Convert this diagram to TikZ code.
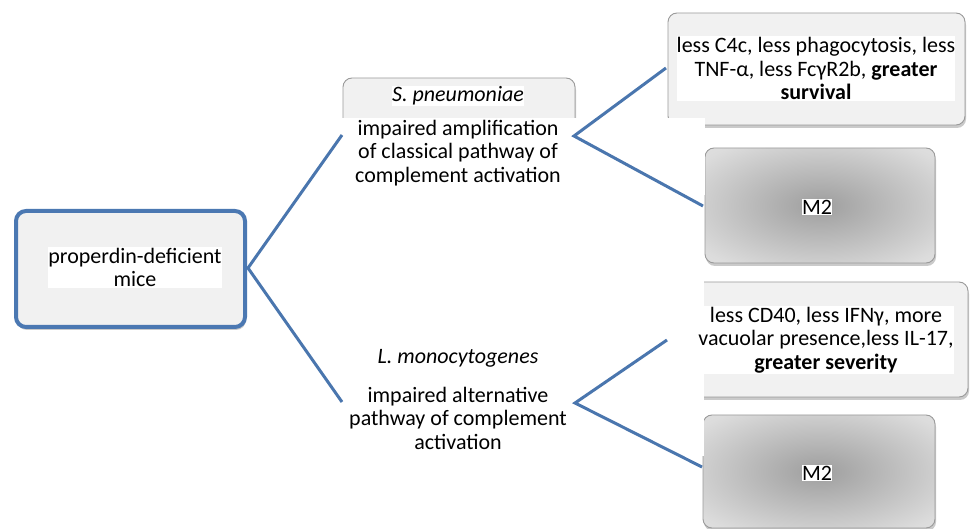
\documentclass[tikz,border=0pt]{standalone}
\usepackage{fontspec}
\setmainfont{Carlito}
\usetikzlibrary{shadows}
\definecolor{linkblue}{HTML}{4A76AE}
\definecolor{lboxblue}{HTML}{4B78B2}
\definecolor{boxfill}{HTML}{F1F1F1}
\definecolor{boxedge}{HTML}{9A9A9A}
\definecolor{mtwoin}{HTML}{9E9E9E}
\definecolor{mtwomid}{HTML}{BBBBBB}
\definecolor{mtwoout}{HTML}{DCDCDC}
\definecolor{mtwofar}{HTML}{EBEBEB}
\pgfdeclareradialshading{mtwoshade}{\pgfpoint{0bp}{0bp}}{color(0bp)=(mtwoin); color(15bp)=(mtwomid); color(32bp)=(mtwoout); color(50bp)=(mtwofar)}
\tikzset{
  every node/.style={font=\fontsize{22}{23.5}\selectfont},
  softshadow/.style={drop shadow={shadow xshift=1pt, shadow yshift=-3pt, opacity=0.35, fill=black!60}},
  graybox/.style={draw=boxedge, fill=boxfill, rounded corners=9pt, line width=0.9pt, inner sep=0pt, softshadow},
  mtwobox/.style={draw=boxedge, rounded corners=9pt, line width=0.9pt, inner sep=0pt, shading=mtwoshade, softshadow},
  bluebox/.style={draw=lboxblue, fill=boxfill, rounded corners=10pt, line width=4pt, inner sep=0pt, softshadow},
  txt/.style={fill=white, inner xsep=0pt, inner ysep=1pt, align=center},
  plain/.style={inner sep=0pt, align=center},
  link/.style={draw=linkblue, line width=3pt},
}
\begin{document}
\begin{tikzpicture}[x=1pt,y=-1pt]
\useasboundingbox (0,0) rectangle (970,529);
% left box
\node[bluebox, minimum width=229pt, minimum height=116pt] (lbox) at (130.5,269) {};
\node[txt] (ltext) at (135,267.5) {properdin-deficient\\mice};
% top middle box
\node[graybox, minimum width=232pt, minimum height=72pt] (sbox) at (459,114) {};
\node[txt, font=\fontsize{22}{23.5}\selectfont\itshape] (stitle) at (458,96) {S. pneumoniae};
% right top box
\node[graybox, minimum width=297pt, minimum height=112pt] (trbox) at (816.5,69) {};
% M2 top
\node[mtwobox, minimum width=230pt, minimum height=115pt] (mtwoa) at (820,205.5) {};
% right bottom box
\node[graybox, minimum width=300pt, minimum height=115pt] (brbox) at (818,339.5) {};
% M2 bottom
\node[mtwobox, minimum width=232pt, minimum height=113pt] (mtwob) at (819,471.5) {};
% white covers
\node[fill=white, inner sep=0pt, minimum width=365pt, minimum height=77pt] (scover) at (522.5,156.5) {};
\node[fill=white, inner sep=0pt, minimum width=364pt, minimum height=180pt] (lcover) at (522,366) {};
% texts
\node[plain] (stext) at (458,153) {impaired amplification\\of classical pathway of\\complement activation};
\node[plain, font=\fontsize{22}{23.5}\selectfont\itshape] (ltitle) at (458,358) {L. monocytogenes};
\node[plain] (lmtext) at (458,418) {impaired alternative\\pathway of complement\\activation};
\node[txt] (trtext) at (816,68.5) {less C4c, less phagocytosis, less\\TNF-α, less FcγR2b, \textbf{greater}\\\textbf{survival}};
\node[txt] (brtext) at (826,340) {less CD40, less IFNγ, more\\vacuolar presence,less IL-17,\\\textbf{greater severity}};
\node[txt, inner ysep=0.5pt] (mtwoatext) at (817,207) {M2};
\node[txt, inner ysep=0.5pt] (mtwobtext) at (817,473) {M2};
% connector points
\coordinate (lfork) at (248,268);
\coordinate (sfork) at (574,136);
\coordinate (lmfork) at (575,403);
\coordinate (supin) at (342,135);
\coordinate (ldownin) at (342,402);
\coordinate (trin) at (666,68);
\coordinate (mtwoain) at (703,206);
\coordinate (brin) at (667,340);
\coordinate (mtwobin) at (702,467);
\draw[link] (supin) -- (lfork) -- (ldownin);
\draw[link] (trin) -- (sfork) -- (mtwoain);
\draw[link] (brin) -- (lmfork) -- (mtwobin);
\end{tikzpicture}
\end{document}
